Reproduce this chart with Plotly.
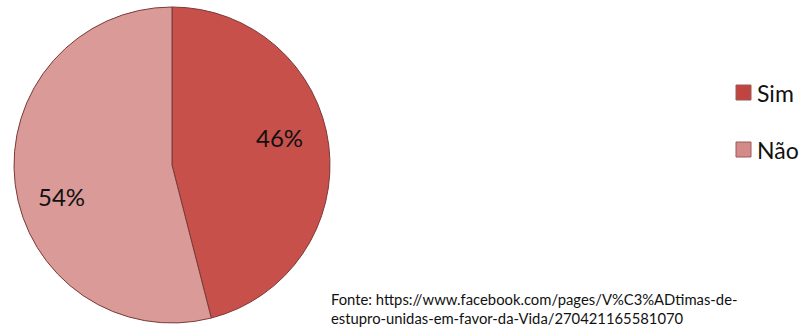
import plotly.graph_objects as go

# Survey answers (percent)
categories = ["Sim", "Não"]
values = [46, 54]
colors = ["#C8504B", "#DA9A98"]
marker_colors = ["#C0443F", "#D48A89"]
source_lines = [
    "Fonte: https://www.facebook.com/pages/V%C3%ADtimas-de-",
    "estupro-unidas-em-favor-da-Vida/270421165581070",
]

W, H = 804, 328
FONT = "Lato, 'Open Sans', sans-serif"

fig = go.Figure()
fig.add_trace(go.Pie(
    labels=categories,
    values=values,
    sort=False,
    direction="clockwise",
    rotation=0,
    marker=dict(colors=colors, line=dict(color="#7A3A38", width=1)),
    textinfo="none",
    hoverinfo="label+percent",
    domain=dict(x=[14 / W, 330 / W], y=[5 / H, 321 / H]),
    showlegend=False,
))

# Percent labels placed inside each slice
label_pos = [(279, 137), (61, 196)]
total = sum(values)
annotations = []
for v, (px, py) in zip(values, label_pos):
    annotations.append(dict(
        x=px / W, y=1 - py / H, xref="paper", yref="paper",
        text=f"{round(100 * v / total)}%", showarrow=False,
        font=dict(family=FONT, size=24, color="#111111"),
        xanchor="center", yanchor="middle",
    ))

# Legend drawn as square swatches with labels
legend_rows = [93, 150]
shapes = []
for name, mc, ly in zip(categories, marker_colors, legend_rows):
    shapes.append(dict(
        type="rect", xref="paper", yref="paper",
        x0=736 / W, x1=751 / W, y0=1 - (ly + 7) / H, y1=1 - (ly - 8) / H,
        fillcolor=mc, line=dict(color="#9A5A58", width=1),
    ))
    annotations.append(dict(
        x=755 / W, y=1 - ly / H, xref="paper", yref="paper",
        text=name, showarrow=False, xanchor="left", yanchor="middle",
        font=dict(family=FONT, size=23, color="#111111"),
    ))

# Source note in the lower right, as one wrapped block
annotations.append(dict(
    x=330 / W, y=0, xref="paper", yref="paper",
    text="<br>".join(source_lines), showarrow=False,
    xanchor="left", yanchor="bottom", align="left", borderpad=0,
    font=dict(family=FONT, size=14.8, color="#111111"),
))

fig.update_layout(
    width=W, height=H,
    margin=dict(l=0, r=0, t=0, b=0),
    paper_bgcolor="white",
    plot_bgcolor="white",
    annotations=annotations,
    shapes=shapes,
)

fig.write_html("out.html")
